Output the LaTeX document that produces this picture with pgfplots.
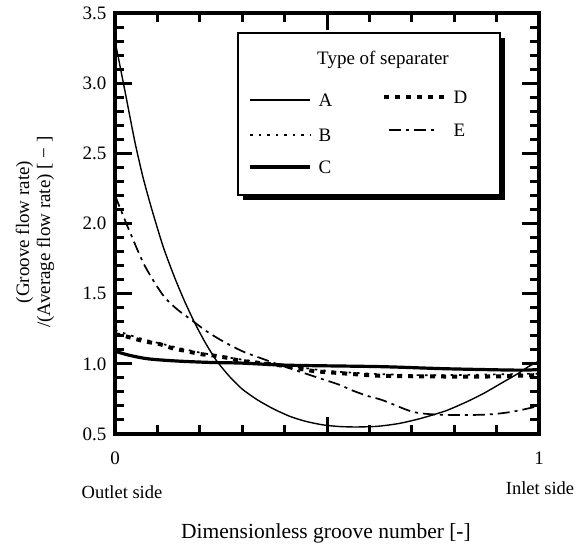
\documentclass[border=0pt]{standalone}
\usepackage{pgfplots}
\pgfplotsset{compat=1.18}
\usepackage{fontspec}
\setmainfont{Liberation Serif}
\tikzset{
 sA/.style={line width=1.4pt},
 sB/.style={line width=1.7pt, dash pattern=on 2.5pt off 6pt},
 sC/.style={line width=3.2pt},
 sD/.style={line width=4pt, dash pattern=on 5pt off 6pt},
 sE/.style={line width=1.7pt, dash pattern=on 12pt off 5pt on 3pt off 5pt},
}
\newcommand\lf{\fontsize{19}{22}\selectfont}
\newcommand\tf{\fontsize{19}{22}\selectfont}
\begin{document}
\begin{tikzpicture}[x=1pt,y=1pt]
\path[use as bounding box] (0,0) rectangle (576,545);
\begin{axis}[at={(115pt,111pt)}, anchor=south west, width=424pt, height=421pt, scale only axis,
 xmin=0,xmax=1,ymin=0.5,ymax=3.5,
 xtick={0,0.5,1}, xticklabels={{\tf 0},,{\tf 1}}, minor x tick num=4,
 ytick={0.5,1,1.5,2,2.5,3,3.5}, yticklabels={{\tf 0.5},{\tf 1.0},{\tf 1.5},{\tf 2.0},{\tf 2.5},{\tf 3.0},{\tf 3.5}},
 minor y tick num=4,
 tick align=inside,
 major tick length=17pt, minor tick length=9pt,
 tick style={line width=3pt, black},
 axis line style={line width=4pt},
 yticklabel style={xshift=-5pt},
 xticklabel style={yshift=-14pt},
]
% A
\addplot[sA, smooth, tension=0.4] coordinates {(0,3.30)(0.01,3.15)(0.025,2.92)(0.047,2.58)(0.066,2.33)(0.085,2.12)(0.113,1.84)(0.14,1.62)(0.165,1.44)(0.19,1.28)(0.215,1.14)(0.24,1.02)(0.27,0.91)(0.30,0.82)(0.335,0.745)(0.373,0.68)(0.413,0.625)(0.45,0.59)(0.49,0.565)(0.53,0.553)(0.57,0.55)(0.62,0.555)(0.67,0.575)(0.72,0.61)(0.78,0.665)(0.83,0.73)(0.87,0.79)(0.91,0.86)(0.95,0.93)(0.975,0.98)(1.0,1.02)};
% B
\addplot[sB, smooth] coordinates {(0,1.24)(0.05,1.19)(0.1,1.15)(0.2,1.08)(0.3,1.03)(0.4,0.99)(0.5,0.95)(0.6,0.93)(0.7,0.92)(0.8,0.92)(0.9,0.925)(1.0,0.93)};
% C
\addplot[sC, smooth] coordinates {(0,1.09)(0.035,1.06)(0.08,1.035)(0.146,1.02)(0.224,1.01)(0.3,1.005)(0.41,0.99)(0.625,0.98)(0.78,0.965)(0.95,0.955)(1.0,0.96)};
% D
\addplot[sD, smooth] coordinates {(0,1.21)(0.02,1.20)(0.07,1.16)(0.106,1.14)(0.137,1.11)(0.17,1.09)(0.2,1.07)(0.23,1.06)(0.27,1.04)(0.30,1.02)(0.40,0.985)(0.465,0.95)(0.526,0.935)(0.594,0.92)(0.625,0.915)(0.75,0.91)(0.9,0.91)(0.95,0.915)(1.0,0.92)};
% E
\addplot[sE, smooth] coordinates {(0,2.2)(0.02,2.05)(0.035,1.94)(0.07,1.70)(0.113,1.49)(0.146,1.39)(0.177,1.32)(0.217,1.23)(0.255,1.16)(0.30,1.09)(0.335,1.05)(0.40,0.98)(0.45,0.93)(0.49,0.89)(0.53,0.85)(0.56,0.81)(0.597,0.77)(0.632,0.74)(0.70,0.66)(0.75,0.64)(0.82,0.635)(0.885,0.64)(0.94,0.66)(1.0,0.70)};
\end{axis}
% legend
\fill (243,345) rectangle (505,507);
\draw[fill=white, line width=1.5pt] (238,350) rectangle (500,512);
\node[font=\lf] at (383,485) {Type of separater};
\draw[sA] (250,445)--(310,445); \node[anchor=west, font=\lf] at (315,445) {A};
\draw[sB] (250,410)--(310,410); \node[anchor=west, font=\lf] at (315,410) {B};
\draw[sC] (250,378)--(310,378); \node[anchor=west, font=\lf] at (315,378) {C};
\draw[sD] (384,448)--(445,448); \node[anchor=west, font=\lf] at (450,448) {D};
\draw[sE] (389,415)--(438,415); \node[anchor=west, font=\lf] at (450,415) {E};
% labels
\node[rotate=90, align=center, font=\fontsize{19}{21}\selectfont] at (35,313) {(Groove flow rate)\\/(Average flow rate) [ − ]};
\node[font=\fontsize{18.5}{21}\selectfont] at (122,53) {Outlet side};
\node[font=\fontsize{18.5}{21}\selectfont] at (540,57) {Inlet side};
\node[font=\fontsize{21.5}{24}\selectfont] at (326,12) {Dimensionless groove number [-]};
\end{tikzpicture}
\end{document}
